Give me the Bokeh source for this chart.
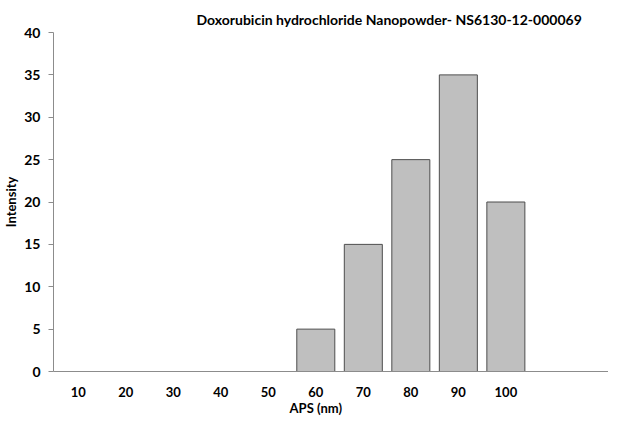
from bokeh.plotting import figure
from bokeh.embed import file_html
from bokeh.resources import INLINE
from bokeh.models import ColumnDataSource, FixedTicker, Range1d, LinearAxis

# data
sizes = [10, 20, 30, 40, 50, 60, 70, 80, 90, 100]
intensity = [0, 0, 0, 0, 0, 5, 15, 25, 35, 20]
y_ticks = [0, 5, 10, 15, 20, 25, 30, 35, 40]
title_text = "Doxorubicin hydrochloride  Nanopowder- NS6130-12-000069"
x_title = "APS (nm)"
y_title = "Intensity"

FONT = "Lato"
AXIS_GRAY = "#8c8c8c"

p = figure(width=608, height=418, output_backend="svg", toolbar_location=None,
           x_range=Range1d(4.8, 121.6), y_range=Range1d(0, 40),
           min_border_left=47, min_border_right=0, min_border_top=32,
           min_border_bottom=47)

src = ColumnDataSource(dict(x=sizes, top=intensity))
p.vbar(x="x", top="top", width=8, bottom=0, source=src,
       fill_color="#bfbfbf", line_color="#4d4d4d", line_width=1)

p.title.text = title_text
p.title.text_font = FONT
p.title.text_font_size = "14px"
p.title.text_font_style = "bold"
p.title.text_color = "#000000"
p.title.align = "left"
p.title.offset = 143
p.title.standoff = 9

p.xgrid.visible = False
p.ygrid.visible = False
p.outline_line_color = None

# x axis (category values)
xax = p.below[0]
xax.ticker = FixedTicker(ticks=sizes)
xax.major_tick_line_color = None
xax.major_tick_in = 0
xax.major_tick_out = 0
xax.minor_tick_line_color = None
xax.minor_tick_out = 0
xax.major_label_standoff = 15
xax.axis_line_color = AXIS_GRAY
xax.major_label_text_font = FONT
xax.major_label_text_font_size = "13px"
xax.major_label_text_font_style = "bold"
xax.major_label_text_color = "#000000"

# x axis title, set under the 60 category as in the reference
title_axis = LinearAxis(ticker=FixedTicker(ticks=[60]),
                        major_label_overrides={60: x_title},
                        axis_line_color=None, major_tick_line_color=None,
                        minor_tick_line_color=None, major_tick_in=0,
                        major_tick_out=0, minor_tick_out=0,
                        major_label_standoff=0,
                        major_label_text_font=FONT,
                        major_label_text_font_size="13px",
                        major_label_text_font_style="bold",
                        major_label_text_color="#000000")
p.add_layout(title_axis, "below")

# y axis
p.yaxis.ticker = FixedTicker(ticks=y_ticks)
p.yaxis.minor_tick_line_color = None
p.yaxis.major_tick_in = 0
p.yaxis.major_tick_out = 5
p.yaxis.major_tick_line_color = AXIS_GRAY
p.yaxis.axis_line_color = AXIS_GRAY
p.yaxis.major_label_standoff = 8
p.yaxis.major_label_text_font = FONT
p.yaxis.major_label_text_font_size = "14px"
p.yaxis.major_label_text_font_style = "bold"
p.yaxis.major_label_text_color = "#000000"
p.yaxis.axis_label = y_title
p.yaxis.axis_label_standoff = 2
p.yaxis.axis_label_text_font = FONT
p.yaxis.axis_label_text_font_size = "13px"
p.yaxis.axis_label_text_font_style = "bold"
p.yaxis.axis_label_text_color = "#000000"

open("out.html", "w").write(file_html(p, INLINE))
